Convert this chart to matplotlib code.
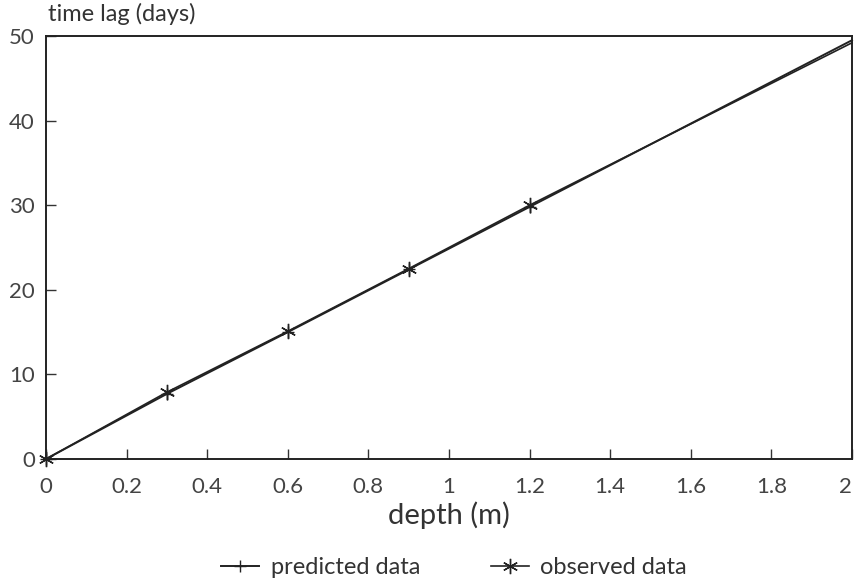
import matplotlib.pyplot as plt

depth_pred = [0, 0.3, 0.6, 0.9, 1.2, 2.0]
lag_pred = [0, 7.7, 15.0, 22.4, 29.8, 49.5]

depth_obs = [0, 0.3, 0.6, 0.9, 1.2, 2.0]
lag_obs = [0, 7.9, 15.1, 22.5, 30.0, 49.2]

x_ticks = [0, 0.2, 0.4, 0.6, 0.8, 1, 1.2, 1.4, 1.6, 1.8, 2]
x_labels = ['0', '0.2', '0.4', '0.6', '0.8', '1', '1.2', '1.4', '1.6', '1.8', '2']
y_ticks = [0, 10, 20, 30, 40, 50]

plt.rcParams['font.family'] = ['Lato', 'DejaVu Sans']

fig = plt.figure(figsize=(8.56, 5.83), dpi=100)
ax = fig.add_axes([46 / 856, 1 - 459 / 583, (852 - 46) / 856, (459 - 36) / 583])

ax.plot(depth_pred, lag_pred, color='#222222', lw=1.4, marker='+', ms=9, mew=1,
        markevery=[0, 1, 2, 3, 4], clip_on=False, label='predicted data')
ax.plot(depth_obs, lag_obs, color='#222222', lw=1.2, marker=(6, 2, 0), ms=11,
        mew=1, markevery=[0, 1, 2, 3, 4], clip_on=False, label='observed data')

ax.set_xlim(0, 2)
ax.set_ylim(0, 50)
ax.set_xticks(x_ticks)
ax.set_xticklabels(x_labels)
ax.set_yticks(y_ticks)
ax.tick_params(direction='in', length=7, width=1, color='#333333',
               labelsize=16, labelcolor='#444444')
ax.tick_params(axis='x', pad=13)
ax.tick_params(axis='y', pad=8)
ax.get_xticklabels()[-1].set_horizontalalignment('right')
for s in ax.spines.values():
    s.set_linewidth(1.4)
    s.set_color('#222222')

ax.set_xlabel('depth (m)', fontsize=21, color='#333333', labelpad=3)
fig.text(48 / 856, 1 - 14 / 583, 'time lag (days)', fontsize=17,
         color='#333333', va='center', ha='left')

fig.legend(loc='center', bbox_to_anchor=(454 / 856, 1 - 568 / 583), ncol=2,
           frameon=False, fontsize=17, handlelength=1.6, handletextpad=0.5,
           columnspacing=3.0, labelcolor='#333333')

fig.savefig('out.png', dpi=100, facecolor='white')
